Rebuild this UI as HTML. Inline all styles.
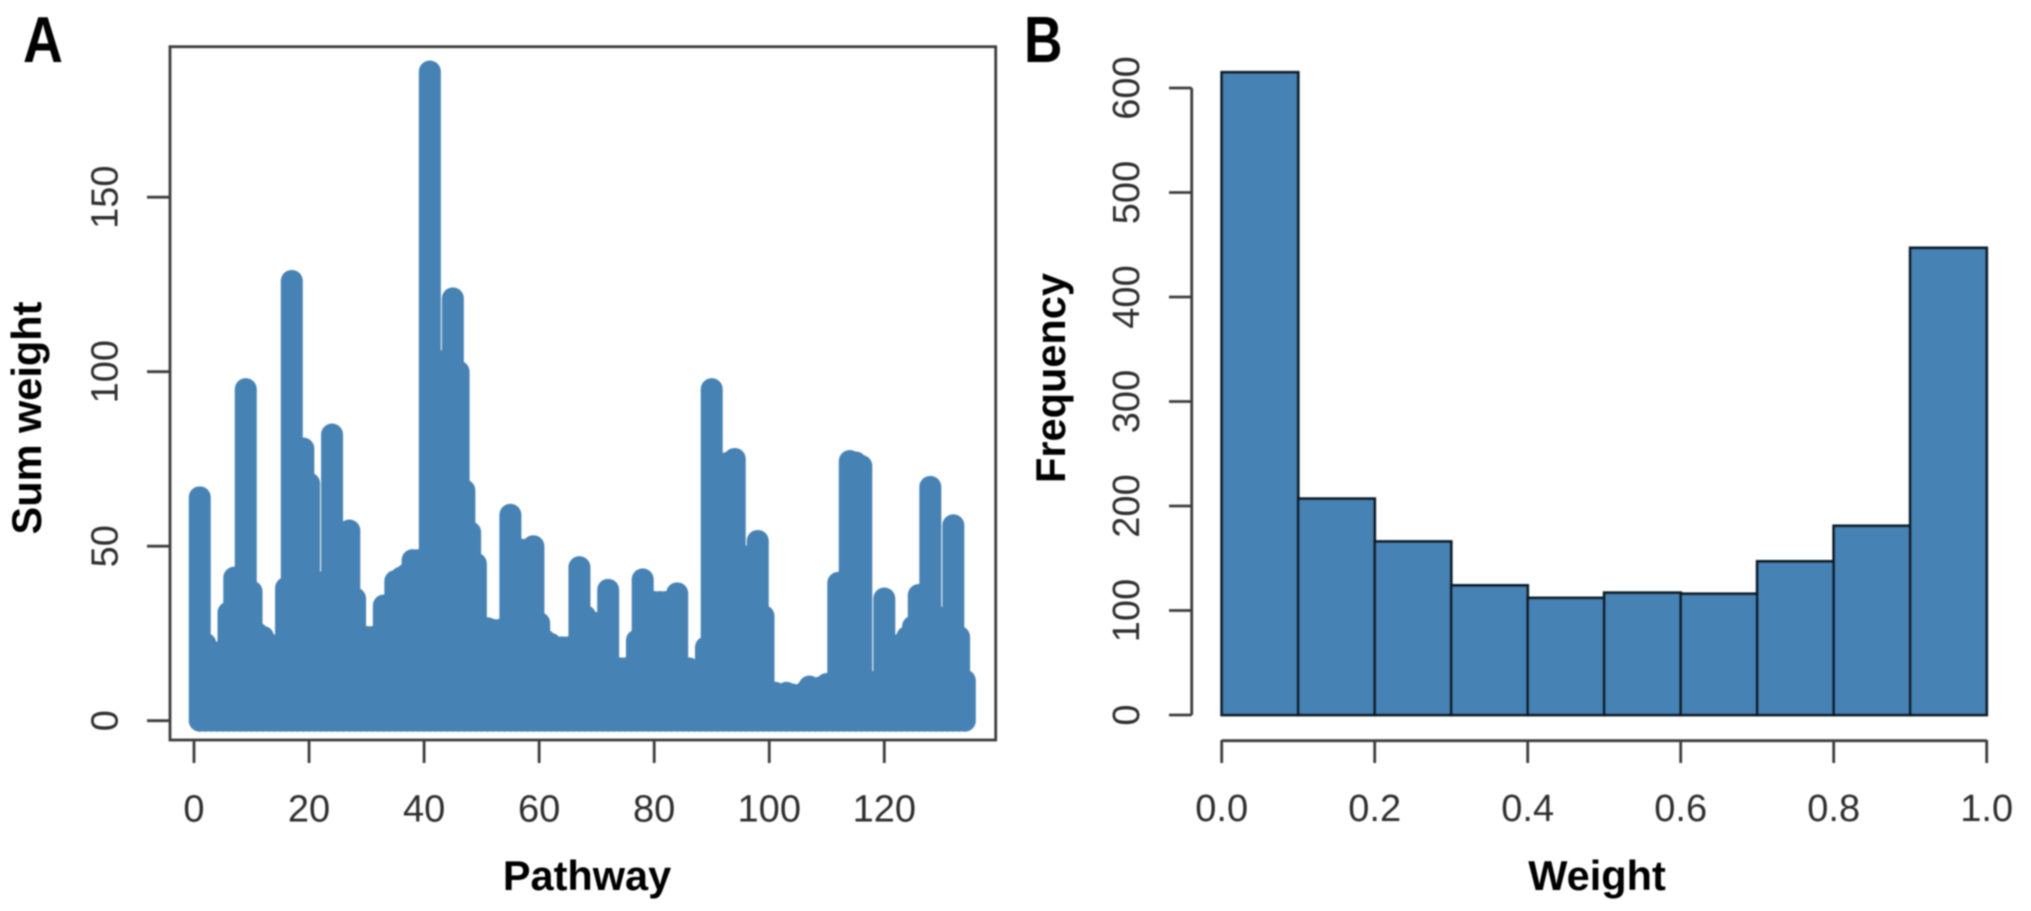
<!DOCTYPE html>
<html lang="en">
<head>
<meta charset="utf-8">
<title>Pathway sum weight and weight histogram</title>
<style>
html,body{margin:0;padding:0;background:#fff;width:2031px;height:911px;overflow:hidden}
svg{display:block}
text{font-family:"Liberation Sans",Arial,sans-serif}
.tick-label{font-size:38px;fill:#2e2e2e}
.axis-title{font-size:41.5px;font-weight:700;fill:#000}
.panel-letter{font-size:65px;font-weight:700;fill:#000}
</style>
</head>
<body>
<svg id="figure" xmlns="http://www.w3.org/2000/svg" width="2031" height="911" viewBox="0 0 2031 911">
  <defs>
    <filter id="soft" x="-2%" y="-2%" width="104%" height="104%"><feGaussianBlur stdDeviation="0.9"/></filter>
  </defs>
  <rect width="2031" height="911" fill="#fff"/>
  <g filter="url(#soft)">
    <g id="panel-a">
      <g id="a-marks"></g>
      <rect x="170" y="46.7" width="825.7" height="693.3" fill="none" stroke="#3c3c3c" stroke-width="2.8"/>
      <g id="a-axes"></g>
      <text class="axis-title" x="587" y="890" text-anchor="middle">Pathway</text>
      <text class="axis-title" transform="translate(41 418) rotate(-90)" text-anchor="middle">Sum weight</text>
      <text class="panel-letter" transform="translate(23 62) scale(0.85 1)">A</text>
    </g>
    <g id="panel-b">
      <g id="b-marks"></g>
      <g id="b-axes"></g>
      <text class="axis-title" x="1597" y="890" text-anchor="middle">Weight</text>
      <text class="axis-title" transform="translate(1065 378) rotate(-90)" text-anchor="middle">Frequency</text>
      <text class="panel-letter" transform="translate(1024 62) scale(0.82 1)">B</text>
    </g>
  </g>
</svg>
<script>
// Panel A data
const pathwaySumWeights = [
  64,22,18,17,20,31,41,41,95,37,
  25,24,22,20,18,38,126,70,78,68,
  40,35,40,82,50,50,54.5,35,24,24,
  24,24,33,33,40,41,42,46,46,46,
  186,100,103,102,121,100,66,54,45,26.5,
  26.5,26,26,26,59,49,49,49,50,28,
  23,22,21,21,21,21,44,30,28,28,
  28,37.5,14,15,15,15,23,40.5,34,34,
  34,34,34,36.5,13,15,14,14,21,95,
  60,60,74,75,47,47,47,51.5,30,8,
  8,7.5,8,7.5,7,8,9.8,9,9.6,10.5,
  10.5,39.5,40,74.4,74,73,11,11,11,35,
  14,19,22,24,27,36,36,67,30,24,
  24,56,24,11.5
];
const pathwayTicks = [0,20,40,60,80,100,120];
const sumWeightTicks = [0,50,100,150];

// Panel B data
const weightBinStarts = [0.0,0.1,0.2,0.3,0.4,0.5,0.6,0.7,0.8,0.9];
const weightBinWidth = 0.1;
const frequencyCounts = [615,207,166,124,112,117,116,147,181,447];
const weightTickLabels = ["0.0","0.2","0.4","0.6","0.8","1.0"];
const frequencyTicks = [0,100,200,300,400,500,600];

const SVG_NS = "http://www.w3.org/2000/svg";
function ax(v){ return 194 + 5.7525 * v; }
function ay(v){ return 720.7 - 3.49 * v; }
function bx(v){ return 1221.7 + 765 * v; }
function by(v){ return 715 - 1.045 * v; }
function make(tag, attrs, parent, txt){
  const el = document.createElementNS(SVG_NS, tag);
  for (const k in attrs) el.setAttribute(k, attrs[k]);
  if (txt !== undefined) el.textContent = txt;
  parent.appendChild(el);
  return el;
}
const aMarks = document.getElementById("a-marks");
const aAxes = document.getElementById("a-axes");
const bMarks = document.getElementById("b-marks");
const bAxes = document.getElementById("b-axes");
const AXC = "#3c3c3c";

pathwaySumWeights.forEach(function(v, i){
  const el = make("line", {x1:ax(i+1), x2:ax(i+1), y1:ay(0), y2:ay(v), stroke:"#4682b4", "stroke-width":22, "stroke-linecap":"round"}, aMarks);
  
  
});
pathwayTicks.forEach(function(t){
  const tk = make("line", {x1:ax(t), x2:ax(t), y1:740, y2:763, stroke:AXC, "stroke-width":2.8}, aAxes);
  
  
  const lb = make("text", {x:ax(t), y:821.5, "text-anchor":"middle", "class":"tick-label"}, aAxes, String(t));
  
  
});
sumWeightTicks.forEach(function(t){
  const tk = make("line", {x1:147, x2:170, y1:ay(t), y2:ay(t), stroke:AXC, "stroke-width":2.8}, aAxes);
  
  
  const lb = make("text", {transform:"translate(117.5 "+ay(t)+") rotate(-90)", "text-anchor":"middle", "class":"tick-label"}, aAxes, String(t));
  
  
});

frequencyCounts.forEach(function(c, i){
  const x0 = bx(weightBinStarts[i]);
  const x1 = bx(weightBinStarts[i] + weightBinWidth);
  const el = make("rect", {x:x0, y:by(c), width:x1-x0, height:by(0)-by(c), fill:"#4682b4", stroke:"#101c28", "stroke-width":2.8}, bMarks);
  
  
});
const bxAxis = make("line", {x1:bx(0), x2:bx(1), y1:740.7, y2:740.7, stroke:AXC, "stroke-width":2.8}, bAxes);


weightTickLabels.forEach(function(s){
  const t = parseFloat(s);
  const tk = make("line", {x1:bx(t), x2:bx(t), y1:740, y2:763, stroke:AXC, "stroke-width":2.8}, bAxes);
  
  
  const lb = make("text", {x:bx(t), y:821, "text-anchor":"middle", "class":"tick-label"}, bAxes, s);
  
  
});
const byAxis = make("line", {x1:1191.7, x2:1191.7, y1:by(0), y2:by(600), stroke:AXC, "stroke-width":2.8}, bAxes);


frequencyTicks.forEach(function(t){
  const tk = make("line", {x1:1169, x2:1191.7, y1:by(t), y2:by(t), stroke:AXC, "stroke-width":2.8}, bAxes);
  
  
  const lb = make("text", {transform:"translate(1139 "+by(t)+") rotate(-90)", "text-anchor":"middle", "class":"tick-label"}, bAxes, String(t));
  
  
});
</script>
</body>
</html>
